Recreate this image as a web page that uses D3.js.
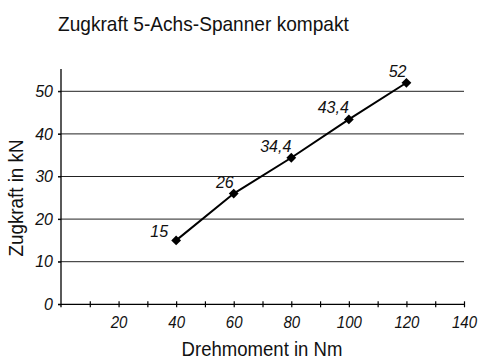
<!DOCTYPE html>
<html>
<head>
<meta charset="utf-8">
<script src="https://cdn.jsdelivr.net/npm/d3@7"></script>
<style>
  html, body { margin: 0; padding: 0; background: #fff; }
  svg { display: block; font-family: "Liberation Sans", Arial, sans-serif; }
</style>
</head>
<body>
<svg id="chart" width="480" height="360"></svg>
<script>
// Tensile force of the compact 5-axis vise over applied torque
const torque = [40, 60, 80, 100, 120];           // Nm
const force = [15, 26, 34.4, 43.4, 52];          // kN
const forceLabels = ["15", "26", "34,4", "43,4", "52"];
const xTickValues = [10, 20, 30, 40, 50, 60, 70, 80, 90, 100, 110, 120, 130, 140];
const xTickLabels = ["20", "40", "60", "80", "100", "120", "140"];
const yTickValues = [0, 10, 20, 30, 40, 50];
const yTickLabels = ["0", "10", "20", "30", "40", "50"];

const svg = d3.select("#chart");

const x = d3.scaleLinear().domain([0, 140]).range([61, 464]);
const y = d3.scaleLinear().domain([0, 55]).range([304.3, 70]);

// narrow text: squeeze horizontally so the label fills the given width
function condensed(parent, px, py, rot, anchor, size, width, str) {
  const g = parent.append("g").attr("transform", `translate(${px},${py}) rotate(${rot})`);
  const t = g.append("text")
    .attr("text-anchor", anchor)
    .attr("font-size", size)
    .attr("fill", "#111")
    .text(str);
  const w = t.node().getComputedTextLength();
  t.attr("transform", `scale(${width / w},1)`);
  return t;
}

// title
condensed(svg, 58, 31, 0, "start", 20, 291, "Zugkraft 5-Achs-Spanner kompakt");

// horizontal grid lines
svg.append("g").selectAll("line")
  .data(yTickValues.filter(v => v > 0))
  .join("line")
  .attr("x1", 58).attr("x2", x(140))
  .attr("y1", d => y(d)).attr("y2", d => y(d))
  .attr("stroke", "#222").attr("stroke-width", 1);

// y axis
const yAxis = svg.append("g")
  .attr("transform", `translate(${x(0)},0)`)
  .call(d3.axisLeft(y).tickValues(yTickValues).tickSize(3)
    .tickFormat((d, i) => yTickLabels[i]));
yAxis.select(".domain").attr("d", `M0,69V${y(0) + 3}`).attr("stroke", "#000").attr("stroke-width", 1.3);
yAxis.selectAll(".tick line").attr("stroke", "#000");
yAxis.selectAll(".tick text")
  .attr("x", -8)
  .attr("font-size", 16).attr("font-style", "italic")
  .attr("font-family", "Liberation Sans, Arial, sans-serif")
  .attr("fill", "#111");

// x axis with ticks crossing the line
const xAxis = svg.append("g")
  .attr("transform", `translate(0,${y(0)})`)
  .call(d3.axisBottom(x).tickValues(xTickValues).tickSize(3)
    .tickFormat(d => (d % 20 === 0 ? xTickLabels[d / 20 - 1] : "")));
xAxis.select(".domain").attr("d", `M58,0H${x(140)}`).attr("stroke", "#000").attr("stroke-width", 1.3);
xAxis.selectAll(".tick line").attr("y1", -3).attr("y2", 3).attr("stroke", "#000").attr("stroke-width", 1.2);
xAxis.selectAll(".tick text")
  .attr("y", 24).attr("dy", 0)
  .attr("font-size", 16).attr("font-style", "italic")
  .attr("font-family", "Liberation Sans, Arial, sans-serif")
  .attr("fill", "#111")
  .attr("textLength", null);
xAxis.selectAll(".tick text").each(function () {
  const t = d3.select(this);
  const cx = 0;
  t.attr("transform", `scale(0.94,1)`).attr("x", cx);
});

// axis titles
condensed(svg, 262, 356, 0, "middle", 20, 161, "Drehmoment in Nm");
condensed(svg, 23, 198, -90, "middle", 20, 117, "Zugkraft in kN");

// series line
const pts = torque.map((t, i) => ({ t, f: force[i], label: forceLabels[i] }));
svg.append("path")
  .datum(pts)
  .attr("fill", "none")
  .attr("stroke", "#000")
  .attr("stroke-width", 2)
  .attr("d", d3.line().x(d => x(d.t)).y(d => y(d.f)));

// diamond markers
svg.append("g").selectAll("path")
  .data(pts)
  .join("path")
  .attr("transform", d => `translate(${x(d.t)},${y(d.f)}) rotate(45)`)
  .attr("d", d3.symbol().type(d3.symbolSquare).size(48))
  .attr("fill", "#000");

// value labels
svg.append("g").selectAll("text")
  .data(pts)
  .join("text")
  .attr("x", (d, i) => x(d.t) + (i === 0 ? -8 : 0))
  .attr("y", (d, i) => y(d.f) + (i === 0 ? -3 : -6))
  .attr("text-anchor", "end")
  .attr("font-size", 16).attr("font-style", "italic")
  .attr("fill", "#111")
  .text(d => d.label);
</script>
</body>
</html>
